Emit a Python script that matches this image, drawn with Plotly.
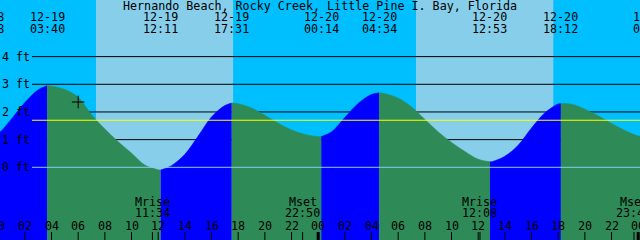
import plotly.graph_objects as go

# ---------------- data ----------------
title_text = "Hernando Beach, Rocky Creek, Little Pine I. Bay, Florida"

tide_dates = ["12-18", "12-19", "12-19", "12-19", "12-20", "12-20", "12-20", "12-20", "12-21"]
tide_times = ["23:08", "03:40", "12:11", "17:31", "00:14", "04:34", "12:53", "18:12", "00:56"]
tide_levels = [1.05, 2.95, -0.10, 2.32, 1.11, 2.69, 0.20, 2.30, 1.05]

# tide level at each whole hour from 12-19 00:00 to 12-21 00:00
hourly_levels = [1.22, 1.75, 2.34, 2.80, 2.93, 2.81, 2.53, 1.90, 1.38, 0.92,
                 0.51, 0.08, -0.09, 0.06, 0.47, 1.13, 1.82, 2.23, 2.30, 2.14,
                 1.88, 1.59, 1.35, 1.19, 1.11, 1.28, 1.80, 2.31, 2.63, 2.66,
                 2.50, 2.18, 1.73, 1.28, 0.90, 0.57, 0.29, 0.20, 0.40, 0.80,
                 1.42, 1.97, 2.29, 2.28, 2.10, 1.86, 1.58, 1.33, 1.13]

sunrise = [("12-19", "07:20"), ("12-20", "07:20")]
sunset = [("12-19", "17:37"), ("12-20", "17:38")]

moon_dates = ["12-19", "12-19", "12-20", "12-20"]
moon_times = ["11:34", "22:50", "12:08", "23:41"]
moon_names = ["Mrise", "Mset", "Mrise", "Mset"]

ft_levels = [0, 1, 2, 3, 4]
ft_labels = ["0 ft", "1 ft", "2 ft", "3 ft", "4 ft"]
mean_level = 1.70

tick_hours = list(range(0, 49, 2))
tick_labels = ["%02d" % (h % 24) for h in tick_hours]

marker_date, marker_time, marker_level = "12-19", "06:00", 2.36

# ---------------- style ----------------
NIGHT = "#00BFFF"
DAY = "#87CEEB"
FLOOD = "#0000FF"
EBB = "#2E8B57"
FONT = dict(family="DejaVu Sans Mono", size=11.7, color="black")
W, H = 640, 240
X0, X1 = 0.135, 48.135
Y0, Y1 = -2.627, 6.046
LINE_START = 32 / W


def hours(date, time):
    day = int(date.split("-")[1])
    hh, mm = time.split(":")
    return (day - 19) * 24 + int(hh) + int(mm) / 60.0


def xfrac(h):
    return (h - X0) / (X1 - X0)


def ypaper(py):
    return 1 - py / H


tide_h = [hours(d, t) for d, t in zip(tide_dates, tide_times)]
hourly_h = list(range(len(hourly_levels)))

fig = go.Figure()

# day shading + grid lines (below fill)
shapes = []
for (rd, rt), (sd, st) in zip(sunrise, sunset):
    shapes.append(dict(type="rect", xref="x", yref="paper", x0=hours(rd, rt), x1=hours(sd, st),
                       y0=0, y1=1, fillcolor=DAY, line=dict(width=0), layer="below"))
for lv in ft_levels[1:]:
    shapes.append(dict(type="line", xref="paper", yref="y", x0=LINE_START, x1=1, y0=lv, y1=lv,
                       line=dict(color="black", width=1), layer="below"))

# tide fill segments
for i in range(len(tide_h) - 1):
    a, b = tide_h[i], tide_h[i + 1]
    xs = [a] + [h for h in hourly_h if a < h < b] + [b]
    ys = [tide_levels[i]] + [l for h, l in zip(hourly_h, hourly_levels) if a < h < b] + [tide_levels[i + 1]]
    col = FLOOD if tide_levels[i + 1] > tide_levels[i] else EBB
    fig.add_trace(go.Scatter(x=[a, b], y=[Y0, Y0], mode="lines", line=dict(width=0),
                             hoverinfo="skip", showlegend=False))
    fig.add_trace(go.Scatter(x=xs, y=ys, mode="lines", fill="tonexty", fillcolor=col,
                             line=dict(width=0.6, color=col, shape="spline", smoothing=1),
                             hoverinfo="skip", showlegend=False))

# datum and mean level lines (above fill)
shapes.append(dict(type="line", xref="paper", yref="y", x0=LINE_START, x1=1, y0=ft_levels[0], y1=ft_levels[0],
                   line=dict(color=DAY, width=1), layer="above"))
shapes.append(dict(type="line", xref="paper", yref="y", x0=LINE_START, x1=1, y0=mean_level, y1=mean_level,
                   line=dict(color="#FFFF00", width=1), layer="above"))

# bottom ticks
for h in tick_hours:
    shapes.append(dict(type="line", xref="x", yref="paper", x0=h, x1=h, y0=0, y1=8 / H,
                       line=dict(color="black", width=3 if h % 24 == 0 else 1), layer="above"))
moon_h = [hours(d, t) for d, t in zip(moon_dates, moon_times)]
for h in moon_h:
    shapes.append(dict(type="line", xref="x", yref="paper", x0=h, x1=h, y0=0, y1=8 / H,
                       line=dict(color="black", width=1), layer="above"))

# current marker
fig.add_trace(go.Scatter(x=[hours(marker_date, marker_time)], y=[marker_level], mode="markers",
                         marker=dict(symbol="cross-thin", size=9, line=dict(width=1, color="black")),
                         hoverinfo="skip", showlegend=False))

anns = []


def txt(text, xf, py, anchor="center"):
    anns.append(dict(text=text, x=xf, y=ypaper(py), xref="paper", yref="paper", xanchor=anchor,
                     yanchor="middle", showarrow=False, font=FONT))


txt(title_text, 0.5, 5.5)
for h, d, t in zip(tide_h, tide_dates, tide_times):
    txt(d, xfrac(h), 17)
    txt(t, xfrac(h), 29)
for h, n, t in zip(moon_h, moon_names, moon_times):
    txt(n, xfrac(h), 202)
    txt(t, xfrac(h), 213)
for h, lab in zip(tick_hours, tick_labels):
    txt(lab, xfrac(h), 226)
for lv, lab in zip(ft_levels, ft_labels):
    anns.append(dict(text=lab, x=0, y=lv, xref="paper", yref="y", xanchor="left", yanchor="middle",
                     showarrow=False, font=FONT))

fig.update_layout(
    width=W, height=H, margin=dict(l=0, r=0, t=0, b=0),
    plot_bgcolor=NIGHT, paper_bgcolor=NIGHT, showlegend=False,
    xaxis=dict(range=[X0, X1], visible=False, fixedrange=True),
    yaxis=dict(range=[Y0, Y1], visible=False, fixedrange=True),
    shapes=shapes, annotations=anns,
)

fig.write_html("out.html", config={"displayModeBar": False})
